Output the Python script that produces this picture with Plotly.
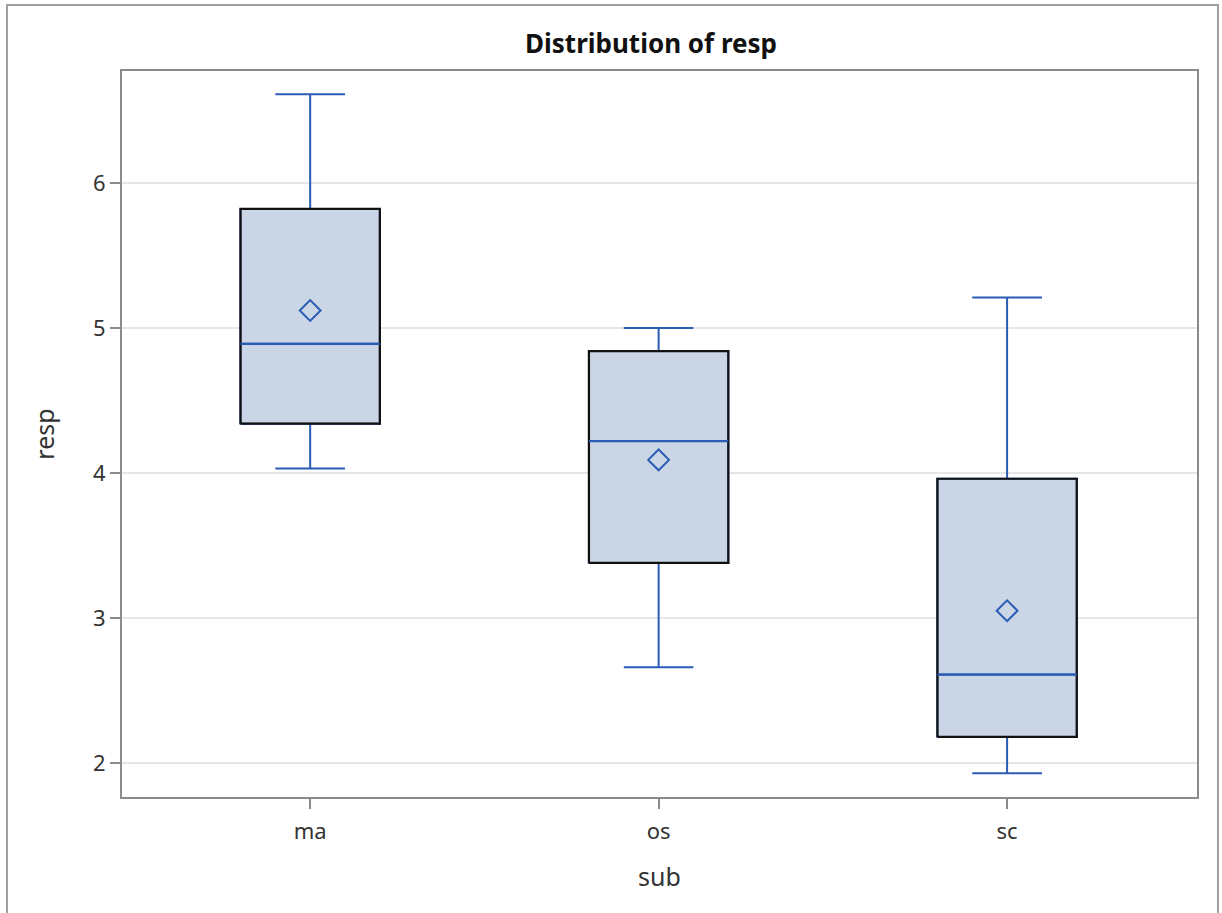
import plotly.graph_objects as go

categories = ["ma", "os", "sc"]
q1 = [4.34, 3.38, 2.18]
median = [4.89, 4.22, 2.61]
q3 = [5.82, 4.84, 3.96]
lowerfence = [4.03, 2.66, 1.93]
upperfence = [6.61, 5.00, 5.21]
means = [5.12, 4.09, 3.05]

BLUE = "#2A5BB5"
FILL = "#CAD5E5"
FONT = "Noto Sans"
pos = list(range(len(categories)))
half = 0.2

W, H = 1222, 913
L, R, T, B = 122, 25, 71, 116
PW, PH = W - L - R, H - T - B

fig = go.Figure()
fig.add_trace(go.Box(
    x=pos, q1=q1, median=median, q3=q3,
    lowerfence=lowerfence, upperfence=upperfence,
    width=2 * half, whiskerwidth=0.5,
    fillcolor=FILL, line=dict(color=BLUE, width=2),
    boxpoints=False, hoverinfo="skip", showlegend=False,
))
# black box outlines
ox, oy = [], []
for p, a, b in zip(pos, q1, q3):
    ox += [p - half, p + half, p + half, p - half, p - half, None]
    oy += [a, a, b, b, a, None]
fig.add_trace(go.Scatter(x=ox, y=oy, mode="lines",
                         line=dict(color="#111111", width=2.2),
                         hoverinfo="skip", showlegend=False))
# median lines on top
mx, my = [], []
for p, m in zip(pos, median):
    mx += [p - half, p + half, None]
    my += [m, m, None]
fig.add_trace(go.Scatter(x=mx, y=my, mode="lines",
                         line=dict(color=BLUE, width=2.2),
                         hoverinfo="skip", showlegend=False))
fig.add_trace(go.Scatter(x=pos, y=means, mode="markers",
                         marker=dict(symbol="diamond-open", size=16,
                                     color=BLUE, line=dict(width=2, color=BLUE)),
                         hoverinfo="skip", showlegend=False))

fig.update_layout(
    width=W, height=H,
    margin=dict(l=L, r=R, t=T, b=B),
    paper_bgcolor="white", plot_bgcolor="white",
    font=dict(family=FONT, size=22, color="#333333"),
    title=dict(text="<b>Distribution of resp</b>", x=651 / W, xref="container",
               xanchor="center", y=1 - 44 / H, yanchor="middle",
               font=dict(family=FONT, size=26, color="#111111")),
    xaxis=dict(range=[-0.54, 2.545], tickvals=pos, ticktext=categories,
               showgrid=False, zeroline=False, showline=True, mirror=True,
               linecolor="#8c8c8c", linewidth=2, ticks="outside", ticklen=10,
               tickcolor="#8c8c8c", tickwidth=1.5, ticklabelstandoff=4,
               title=dict(text="sub", font=dict(size=25, family=FONT, color="#333333"), standoff=24)),
    yaxis=dict(range=[1.766, 6.771], tickvals=[2, 3, 4, 5, 6],
               showgrid=True, gridcolor="#e6e6e6", gridwidth=1.5, zeroline=False,
               showline=True, mirror=True, linecolor="#8c8c8c", linewidth=2,
               ticks="outside", ticklen=10, tickcolor="#8c8c8c", tickwidth=1.5,
               title=dict(text="resp", font=dict(size=25, family=FONT, color="#333333"), standoff=31)),
    shapes=[dict(type="rect", xref="paper", yref="paper",
                 x0=(7 - L) / PW, x1=(1218 - L) / PW,
                 y0=-0.3, y1=(H - B - 5) / PH,
                 line=dict(color="#a0a0a0", width=2), layer="below")],
)

fig.write_html("out.html",
               config={"displayModeBar": False},
               post_script="document.body.style.margin='0';document.body.style.padding='0';")
